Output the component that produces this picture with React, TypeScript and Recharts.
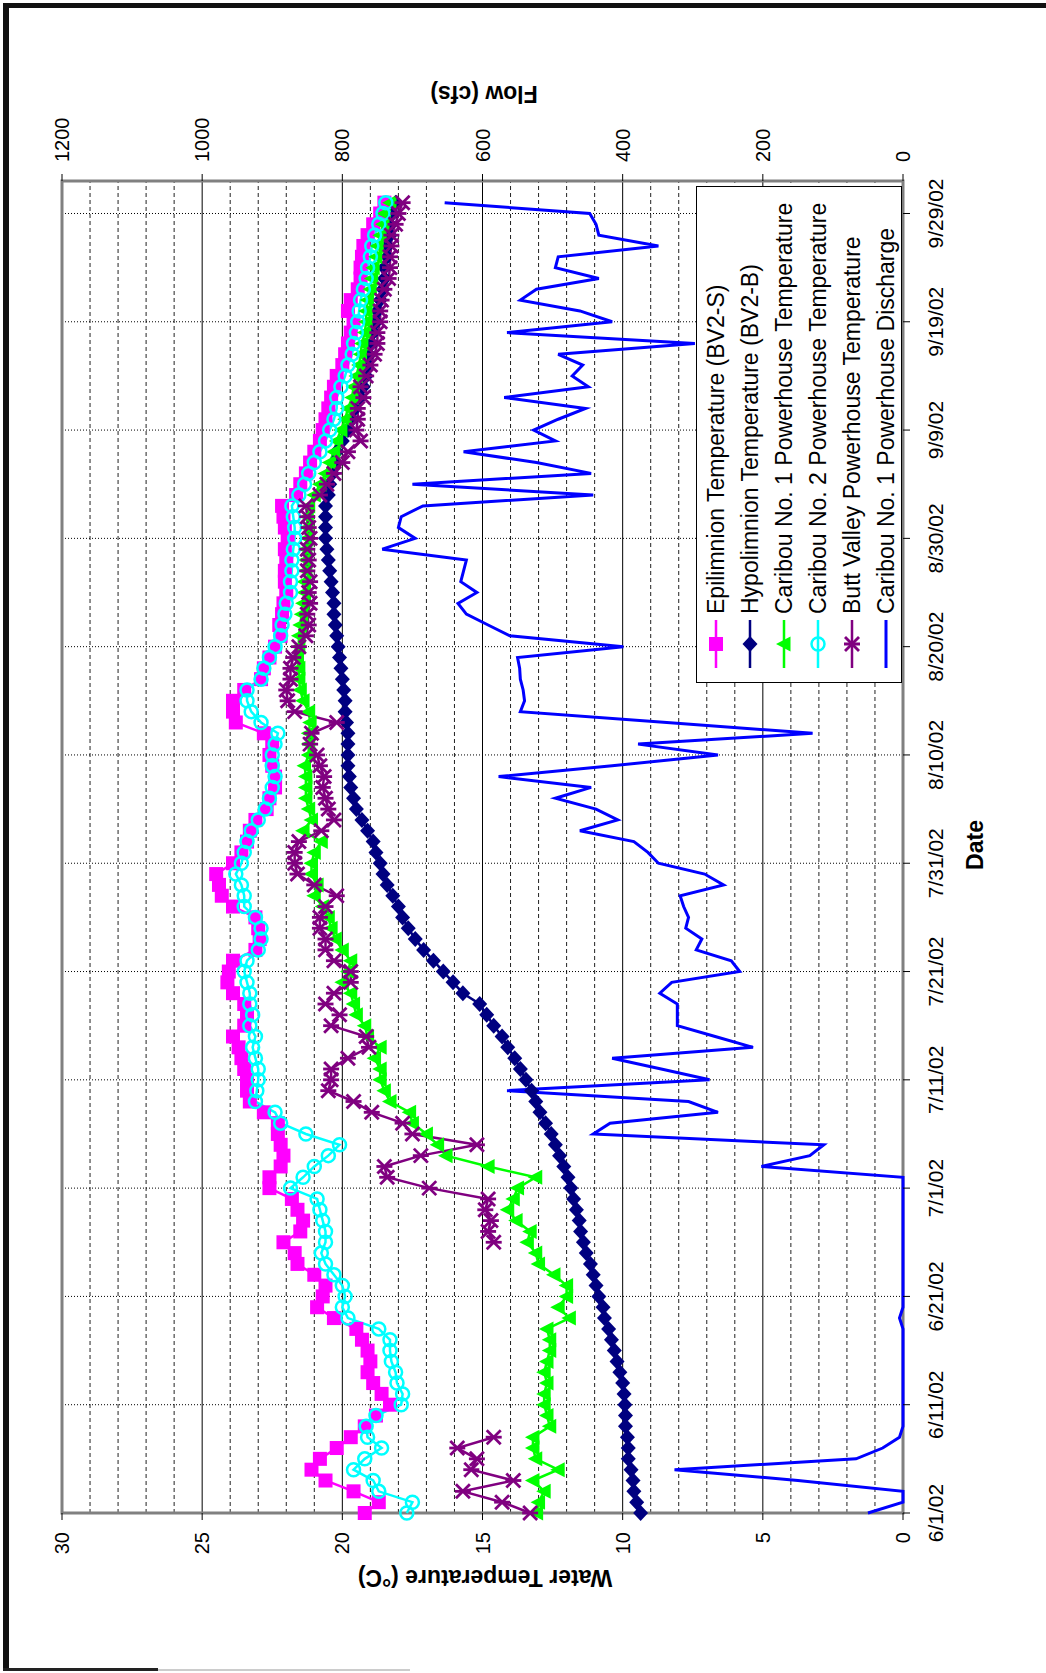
import React from 'react';
import { LineChart, Line, XAxis, YAxis, CartesianGrid, ReferenceArea } from 'recharts';

const FONT = '"Liberation Sans", Arial, Helvetica, sans-serif';

// x axis: days after 6/1/02
const dateTicks = [0, 10, 20, 30, 40, 50, 60, 70, 80, 90, 100, 110, 120];
const dateLabels = ['6/1/02', '6/11/02', '6/21/02', '7/1/02', '7/11/02', '7/21/02', '7/31/02', '8/10/02', '8/20/02', '8/30/02', '9/9/02', '9/19/02', '9/29/02'];
const tempTicks = [0, 5, 10, 15, 20, 25, 30];
const tempMinorTicks = [1, 2, 3, 4, 6, 7, 8, 9, 11, 12, 13, 14, 16, 17, 18, 19, 21, 22, 23, 24, 26, 27, 28, 29];
const flowTicks = [0, 200, 400, 600, 800, 1000, 1200];

const epilimnion = [
  19.2, 18.7, 19.6, 20.6, 21.1, 20.8, 20.2, 19.7, 19.2, 18.8,
  18.3, 18.6, 18.9, 19.1, 19.0, 19.1, 19.3, 19.5, 20.3, 20.9,
  20.7, 20.6, 21.0, 21.6, 21.7, 22.1, 21.5, 21.4, 21.6, 21.8,
  22.6, 22.6, 22.2, 22.1, 22.2, 22.3, 22.3, 22.8, 23.3, 23.4,
  23.4, 23.5, 23.6, 23.7, 23.9, 23.5, 23.4, 23.5, 23.9, 24.1,
  24.05, 23.9, 23.1, 22.95, 23.0, 23.1, 23.9, 24.3, 24.4, 24.5,
  23.9, 23.6, 23.4, 23.3, 23.1, 22.7, 22.6, 22.4, 22.4, 22.5,
  22.6, 22.5, 22.8, 23.8, 23.9, 23.9, 23.5, 22.9, 22.8, 22.6,
  22.4, 22.2, 22.25, 22.15, 22.1, 22.0, 22.05, 22.05, 22.0, 22.05,
  21.95, 22.05, 22.1, 22.15, 21.65, 21.5, 21.3, 21.15, 21.0, 20.8,
  20.7, 20.6, 20.5, 20.4, 20.3, 20.2, 20.0, 19.9, 19.8, 19.7,
  19.6, 19.8, 19.7, 19.45, 19.35, 19.35, 19.3, 19.25, 19.1, 18.9,
  18.65, 18.5,
];

const hypolimnion = [
  9.36, 9.5, 9.6, 9.63, 9.7, 9.8, 9.8, 9.83, 9.9, 9.9,
  9.92, 9.95, 10.0, 10.1, 10.2, 10.3, 10.4, 10.5, 10.65, 10.7,
  10.85, 10.95, 11.05, 11.15, 11.3, 11.4, 11.5, 11.55, 11.65, 11.75,
  11.85, 11.95, 12.1, 12.25, 12.4, 12.55, 12.75, 12.95, 13.1, 13.25,
  13.45, 13.65, 13.85, 14.1, 14.3, 14.6, 14.85, 15.1, 15.7, 16.05,
  16.4, 16.75, 17.1, 17.4, 17.65, 17.85, 18.0, 18.2, 18.4, 18.55,
  18.65, 18.8, 18.9, 19.1, 19.3, 19.5, 19.6, 19.7, 19.75, 19.8,
  19.8, 19.8, 19.8, 19.85, 19.9, 19.9, 19.95, 20.0, 20.05, 20.1,
  20.15, 20.2, 20.25, 20.3, 20.3, 20.35, 20.4, 20.45, 20.5, 20.55,
  20.6, 20.6, 20.6, 20.6, 20.5, 20.45, 20.35, 20.3, 20.2, 20.0,
  19.8, 19.65, 19.55, 19.35, 19.25, 19.15, 19.1, 19.05, 18.95, 18.9,
  18.8, 18.75, 18.65, 18.55, 18.5, 18.5, 18.4, 18.4, 18.3, 18.3,
  18.2, 18.1,
];

const caribou1 = [
  13.07, 13.0, 12.8, 13.2, 12.3, 13.1, 13.2, 13.2, 12.6, 12.7,
  12.8, 12.8, 12.7, 12.8, 12.7, 12.6, 12.6, 12.7, 11.9, 12.3,
  12.0, 12.0, 12.45, 13.0, 13.1, 13.4, 13.3, 13.8, 14.1, 13.9,
  13.75, 13.1, 14.8, 16.3, 16.6, 17.0, 17.5, 17.6, 18.3, 18.5,
  18.65, 18.65, 18.85, 18.65, 19.1, 19.2, 19.5, 19.6, 19.7, 20.0,
  19.8, 19.7, 20.0, 20.25, 20.4, 20.5, 20.7, 21.0, 20.9, 21.1,
  21.1, 21.0, 20.75, 21.4, 21.1, 21.2, 21.3, 21.3, 21.3, 21.35,
  21.2, 21.2, 21.2, 21.15, 21.2, 21.4, 21.5, 21.55, 21.55, 21.6,
  21.55, 21.55, 21.5, 21.45, 21.4, 21.35, 21.35, 21.3, 21.3, 21.3,
  21.25, 21.25, 21.25, 21.2, 21.0, 20.8, 20.6, 20.45, 20.3, 20.2,
  20.05, 19.9, 19.8, 19.65, 19.6, 19.5, 19.4, 19.35, 19.3, 19.2,
  19.15, 19.15, 19.1, 19.0, 18.95, 18.9, 18.8, 18.75, 18.65, 18.55,
  18.5, 18.3,
];

const caribou2 = [
  17.7, 17.5, 18.7, 18.9, 19.6, 19.2, 18.6, 19.1, 19.15, 18.8,
  17.9, 17.85, 18.05, 18.1, 18.25, 18.3, 18.3, 18.7, 19.8, 20.0,
  19.9, 20.0, 20.3, 20.6, 20.75, 20.6, 20.6, 20.7, 20.8, 20.9,
  21.85, 21.4, 21.0, 20.5, 20.1, 21.3, 22.2, 22.4, 23.1, 23.05,
  23.0, 23.0, 23.1, 23.2, 23.1, 23.3, 23.2, 23.3, 23.3, 23.4,
  23.5, 23.4, 23.0, 22.9, 22.9, 23.1, 23.5, 23.5, 23.6, 23.8,
  23.6, 23.5, 23.4, 23.25, 23.0, 22.75, 22.6, 22.5, 22.4, 22.5,
  22.5, 22.4, 22.3, 22.9, 23.25, 23.4, 23.4, 22.9, 22.8, 22.6,
  22.4, 22.2, 22.15, 22.05, 22.0, 21.85, 21.85, 21.8, 21.8, 21.75,
  21.7, 21.7, 21.75, 21.8, 21.55, 21.35, 21.2, 21.0, 20.8, 20.6,
  20.45, 20.3, 20.2, 20.2, 20.05, 19.9, 19.8, 19.65, 19.6, 19.5,
  19.45, 19.4, 19.35, 19.25, 19.15, 19.1, 19.0, 18.95, 18.85, 18.7,
  18.55, 18.45,
];

const buttValley = [
  13.3, 14.3, 15.7, 13.9, 15.4, 15.2, 15.9, 14.6, null, null,
  null, null, null, null, null, null, null, null, null, null,
  null, null, null, null, null, 14.6, 14.8, 14.7, 14.9, 14.8,
  16.9, 18.4, 18.5, 17.2, 15.2, 17.5, 17.85, 18.95, 19.6, 20.5,
  20.4, 20.4, 19.8, 19.05, 19.15, 20.4, 20.1, 20.6, 20.3, 19.7,
  19.7, 20.3, 20.6, 20.6, 20.8, 20.8, 20.6, 20.2, 21.0, 21.6,
  21.7, 21.7, 21.55, 20.75, 20.3, 20.5, 20.6, 20.7, 20.65, 20.8,
  20.9, 21.15, 21.1, 20.2, 21.7, 21.95, 22.0, 21.85, 21.85, 21.75,
  21.55, 21.3, 21.2, 21.25, 21.15, 21.2, 21.15, 21.25, 21.2, 21.25,
  21.15, 21.2, 21.25, 21.3, 20.8, 20.55, 20.3, 20.0, 19.8, 19.35,
  19.5, 19.45, 19.45, 19.25, 19.35, 19.15, 19.0, 18.85, 18.75, 18.75,
  18.65, 18.65, 18.6, 18.5, 18.35, 18.3, 18.3, 18.25, 18.25, 18.1,
  18.0, 17.85,
];

const discharge = [
  50, 0, 0, 150, 326, 67, 29, 5, 0, 0,
  0, 0, 0, 0, 0, 0, 0, 0, 5, 0,
  0, 0, 0, 0, 0, 0, 0, 0, 0, 0,
  0, 0, 202, 133, 113, 442, 418, 264, 306, 565,
  276, 345, 415, 214, 268, 322, 322, 322, 347, 330,
  233, 245, 295, 287, 310, 306, 313, 318, 256, 283,
  349, 364, 384, 461, 407, 438, 496, 445, 577, 415,
  264, 378, 129, 337, 546, 540, 542, 546, 547, 550,
  399, 561, 592, 623, 635, 608, 631, 627, 623, 743,
  696, 720, 716, 685, 442, 700, 445, 523, 627, 496,
  527, 492, 453, 569, 449, 472, 457, 492, 297, 565,
  415, 461, 546, 523, 434, 496, 492, 349, 434, 438,
  447, 654,
];

const rows = epilimnion.map((_, i) => ({
  day: i,
  epi: epilimnion[i],
  hypo: hypolimnion[i],
  car1: caribou1[i],
  car2: caribou2[i],
  bv: buttValley[i],
  flow: discharge[i],
}));

type Shape = 'square' | 'diamond' | 'triangle' | 'circle' | 'star' | 'none';

const series: { key: string; name: string; color: string; shape: Shape; axis: string }[] = [
  { key: 'epi', name: 'Epilimnion Temperature (BV2-S)', color: '#FF00FF', shape: 'square', axis: 'temp' },
  { key: 'hypo', name: 'Hypolimnion Temperature (BV2-B)', color: '#000080', shape: 'diamond', axis: 'temp' },
  { key: 'car1', name: 'Caribou No. 1 Powerhouse Temperature', color: '#00FF00', shape: 'triangle', axis: 'temp' },
  { key: 'car2', name: 'Caribou No. 2 Powerhouse Temperature', color: '#00FFFF', shape: 'circle', axis: 'temp' },
  { key: 'bv', name: 'Butt Valley Powerhouse Temperature', color: '#800080', shape: 'star', axis: 'temp' },
  { key: 'flow', name: 'Caribou No. 1 Powerhouse Discharge', color: '#0000FF', shape: 'none', axis: 'flow' },
];

const marker = (shape: Shape, cx: number, cy: number, color: string, key?: string) => {
  switch (shape) {
    case 'square':
      return <rect key={key} x={cx - 7} y={cy - 7} width={14} height={14} fill={color} />;
    case 'diamond':
      return <polygon key={key} points={`${cx},${cy - 7.5} ${cx + 8},${cy} ${cx},${cy + 7.5} ${cx - 8},${cy}`} fill={color} />;
    case 'triangle':
      return <polygon key={key} points={`${cx},${cy - 8} ${cx + 7.5},${cy + 6.5} ${cx - 7.5},${cy + 6.5}`} fill={color} />;
    case 'circle':
      return <circle key={key} cx={cx} cy={cy} r={6.5} fill="none" stroke={color} strokeWidth={2.5} />;
    case 'star':
      return (
        <g key={key} stroke={color} strokeWidth={2.8}>
          <line x1={cx - 7} y1={cy - 7} x2={cx + 7} y2={cy + 7} />
          <line x1={cx - 7} y1={cy + 7} x2={cx + 7} y2={cy - 7} />
          <line x1={cx} y1={cy - 8} x2={cx} y2={cy + 8} />
        </g>
      );
    default:
      return <g key={key} />;
  }
};

const dotFor = (s: { key: string; color: string; shape: Shape }) => (p: any) => {
  const k = `${s.key}-${p.index}`;
  if (!Number.isFinite(p.cx) || !Number.isFinite(p.cy) || p.value == null) return <g key={k} />;
  return marker(s.shape, p.cx, p.cy, s.color, k);
};

const LegendBox = () => (
  <div
    style={{
      position: 'absolute', left: 990, top: 696, width: 497, height: 206,
      border: '1px solid #000', background: '#fff', boxSizing: 'border-box',
      fontFamily: FONT, fontSize: 23, color: '#000',
    }}
  >
    {series.map((s, i) => (
      <div key={s.key} style={{ position: 'absolute', left: 0, top: 2 + i * 34, height: 34, display: 'flex', alignItems: 'center' }}>
        <svg width={66} height={34} style={{ display: 'block' }}>
          <line x1={14} y1={17} x2={62} y2={17} stroke={s.color} strokeWidth={s.shape === 'none' ? 3 : 2.5} />
          {marker(s.shape, 38, 17, s.color)}
        </svg>
        <span style={{ whiteSpace: 'nowrap', marginLeft: 2 }}>{s.name}</span>
      </div>
    ))}
  </div>
);

const titleStyle: React.CSSProperties = {
  position: 'absolute', fontFamily: FONT, fontWeight: 'bold', fontSize: 23,
  color: '#000', whiteSpace: 'nowrap',
};

const tickStyle = { fill: '#000', fontSize: 20, fontFamily: FONT };

const App = () => (
  <div style={{ position: 'absolute', left: 0, top: 0, width: 1046, height: 1673, background: '#fff', overflow: 'hidden' }}>
    {/* scanned page frame */}
    <div style={{ position: 'absolute', left: 3, top: 3, width: 1043, height: 5, background: '#111' }} />
    <div style={{ position: 'absolute', left: 3, top: 3, width: 6, height: 1668, background: '#111' }} />
    <div style={{ position: 'absolute', left: 3, top: 1668, width: 155, height: 3, background: '#222' }} />
    <div style={{ position: 'absolute', left: 158, top: 1669, width: 252, height: 2, background: '#ccc' }} />

    {/* the chart is laid out landscape and turned a quarter turn counter-clockwise */}
    <div
      style={{
        position: 'absolute', left: 0, top: 0, width: 1673, height: 1046,
        transformOrigin: '0 0', transform: 'translate(0px, 1673px) rotate(-90deg)',
      }}
    >
      <LineChart width={1673} height={1046} data={rows} margin={{ top: 62, right: 0, bottom: 0, left: 0 }}>
        <XAxis
          dataKey="day"
          type="number"
          domain={[0, 123]}
          ticks={dateTicks}
          tickFormatter={(v: number) => dateLabels[dateTicks.indexOf(v)] ?? ''}
          height={143}
          axisLine={false}
          tickLine={{ stroke: '#000' }}
          tickSize={7}
          tickMargin={18}
          tick={{ ...tickStyle, fontSize: 21 }}
          interval={0}
        />
        <YAxis
          yAxisId="temp"
          domain={[0, 30]}
          ticks={tempTicks}
          width={160}
          axisLine={false}
          tickLine={{ stroke: '#000' }}
          tickSize={7}
          tickMargin={12}
          tick={tickStyle}
          interval={0}
        />
        <YAxis
          yAxisId="flow"
          orientation="right"
          domain={[0, 1200]}
          ticks={flowTicks}
          width={181}
          axisLine={false}
          tickLine={{ stroke: '#000' }}
          tickSize={7}
          tickMargin={12}
          tick={tickStyle}
          interval={0}
        />
        <CartesianGrid yAxisId="temp" vertical={false} horizontalValues={tempMinorTicks} stroke="#222" strokeDasharray="4 3" />
        <CartesianGrid yAxisId="temp" vertical={false} horizontalValues={tempTicks} stroke="#000" />
        <CartesianGrid yAxisId="temp" horizontal={false} verticalValues={dateTicks} stroke="#000" strokeDasharray="1 2" />
        <ReferenceArea yAxisId="temp" x1={0} x2={123} y1={0} y2={30} fill="none" stroke="#808080" strokeWidth={3} />
        {series.map((s) => (
          <Line
            key={s.key}
            yAxisId={s.axis}
            type="linear"
            dataKey={s.key}
            name={s.name}
            stroke={s.color}
            strokeWidth={s.shape === 'none' ? 3 : 2.5}
            dot={s.shape === 'none' ? false : dotFor(s)}
            activeDot={false}
            isAnimationActive={false}
          />
        ))}
      </LineChart>

      <div style={{ ...titleStyle, left: 96, top: 485, transform: 'translate(-50%, -50%) rotate(-90deg)' }}>
        Water Temperature (°C)
      </div>
      <div style={{ ...titleStyle, left: 1580, top: 484, transform: 'translate(-50%, -50%) rotate(-90deg)' }}>
        Flow (cfs)
      </div>
      <div style={{ ...titleStyle, left: 828, top: 975, transform: 'translate(-50%, -50%)' }}>Date</div>
      <LegendBox />
    </div>
  </div>
);

export default App;
